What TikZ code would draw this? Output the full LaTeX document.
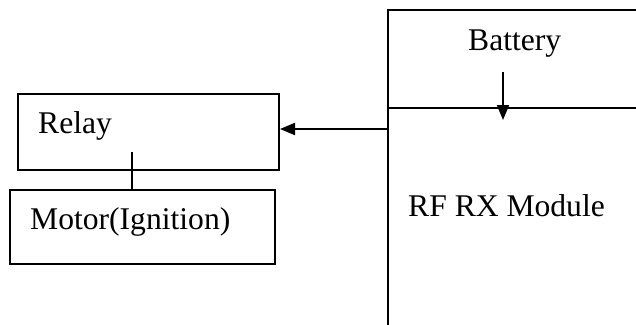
\documentclass[tikz,border=0pt]{standalone}
\usepackage{fontspec}
\setmainfont{Liberation Serif}
\usetikzlibrary{arrows.meta}
\begin{document}
\begin{tikzpicture}[x=1pt,y=-1pt,
  box/.style={draw, line width=2pt, rectangle, inner sep=0pt, anchor=north west},
  lbl/.style={anchor=base west, inner sep=0pt, font=\fontsize{31.6}{38}\selectfont},
  wire/.style={line width=2pt},
  arr/.style={line width=2pt, -{Triangle[length=15pt,width=12pt]}}]
\useasboundingbox (0,0) rectangle (636,324);
\begin{scope}
\clip (0,0) rectangle (636,324);
% receiver module, running past the right and bottom edges
\node[box, minimum width=300pt, minimum height=330pt] (rf) at (387,9) {};
\draw[wire] (387,108) -- (700,108);
\end{scope}
% relay and motor
\node[box, minimum width=261pt, minimum height=76pt] (relay) at (17,93) {};
\node[box, minimum width=265pt, minimum height=74pt] (motor) at (9,189) {};
% labels
\node[lbl] (tbat) at (468,50) {Battery};
\node[lbl] (trf) at (408,216) {RF RX Module};
\node[lbl] (trel) at (38,133) {Relay};
\node[lbl] (tmot) at (30,229) {Motor(Ignition)};
% connectors
\coordinate (bs) at (503,72);
\coordinate (be) at (503,120);
\draw[arr] (bs) -- (be);
\coordinate (ra) at (387,129);
\draw[arr] (ra) -- (ra -| relay.east);
\coordinate (rm) at (132,152);
\draw[wire] (rm) -- (rm |- motor.north);
\end{tikzpicture}
\end{document}
